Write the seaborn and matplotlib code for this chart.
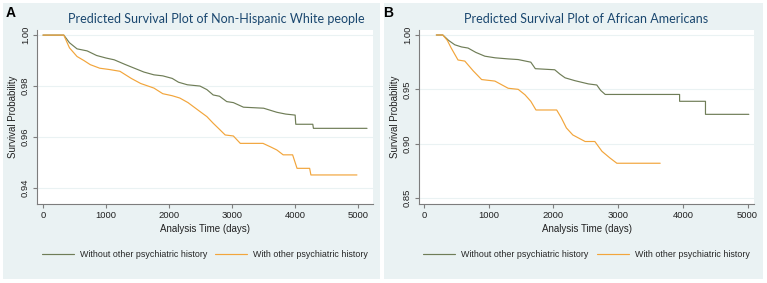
import numpy as np
import pandas as pd
import matplotlib
matplotlib.use("Agg")
import matplotlib.pyplot as plt
from matplotlib.patches import Rectangle
from matplotlib.lines import Line2D
import seaborn as sns

# ---------------- data ----------------
groups = ["Without other psychiatric history", "With other psychiatric history"]

a_without_t = [0, 330, 420, 540, 700, 850, 1000, 1130, 1300, 1450, 1600, 1760, 1900, 2050, 2150,
               2290, 2490, 2600, 2700, 2800, 2915, 3020, 3180, 3500, 3710, 3850, 4000, 4010, 4280,
               4290, 5140]
a_without_s = [1.0, 1.0, 0.997, 0.9946, 0.9938, 0.992, 0.991, 0.9903, 0.9885, 0.987, 0.9855, 0.9844,
               0.984, 0.983, 0.9815, 0.9805, 0.980, 0.9786, 0.9765, 0.976, 0.9739, 0.9735, 0.9717,
               0.9713, 0.9697, 0.969, 0.9686, 0.965, 0.965, 0.9634, 0.9634]

a_with_t = [0, 330, 420, 540, 650, 750, 900, 1050, 1220, 1400, 1550, 1760, 1900, 2050, 2170, 2300,
            2490, 2600, 2700, 2800, 2890, 3020, 3130, 3490, 3620, 3710, 3810, 3960, 4030, 4230,
            4250, 4980]
a_with_s = [1.0, 1.0, 0.995, 0.9916, 0.990, 0.9884, 0.987, 0.9865, 0.9858, 0.983, 0.981, 0.9792,
            0.977, 0.9762, 0.9753, 0.9735, 0.970, 0.968, 0.9654, 0.963, 0.9608, 0.9604, 0.9575,
            0.9575, 0.956, 0.9549, 0.953, 0.953, 0.9477, 0.9477, 0.9451, 0.9451]

b_without_t = [190, 290, 380, 475, 580, 680, 800, 940, 1100, 1300, 1455, 1650, 1720, 2020, 2100, 2180,
               2330, 2540, 2670, 2730, 2800, 3950, 3950, 4350, 4350, 5020]
b_without_s = [1.0, 1.0, 0.995, 0.991, 0.989, 0.988, 0.984, 0.9805, 0.979, 0.978, 0.9774, 0.975,
               0.969, 0.968, 0.964, 0.9606, 0.958, 0.955, 0.954, 0.949, 0.9453, 0.9453, 0.939,
               0.939, 0.927, 0.927]

b_with_t = [190, 290, 360, 420, 525, 630, 760, 890, 1095, 1300, 1455, 1560, 1650, 1730, 2050, 2120,
            2200, 2300, 2490, 2640, 2750, 2870, 2980, 3650]
b_with_s = [1.0, 1.0, 0.995, 0.988, 0.977, 0.976, 0.967, 0.959, 0.9576, 0.951, 0.950, 0.945, 0.939,
            0.931, 0.931, 0.924, 0.9145, 0.908, 0.902, 0.902, 0.893, 0.887, 0.882, 0.882]

a_yticks = [0.94, 0.96, 0.98, 1.00]
b_yticks = [0.85, 0.90, 0.95, 1.00]
xticks = [0, 1000, 2000, 3000, 4000, 5000]

titles = ["Predicted Survival Plot of Non-Hispanic White people",
          "Predicted Survival Plot of African Americans"]
panel_letters = ["A", "B"]

# ---------------- style ----------------
W, H = 767, 283
GREEN = "#6f7d57"
ORANGE = "#f2a53b"
BG = "#eaf2f3"
AXC = "#7d7d7d"
TITLEC = "#1a476f"

sns.set_theme(style="white")
plt.rcParams["font.family"] = ["Liberation Sans", "DejaVu Sans"]

fig = plt.figure(figsize=(W / 100, H / 100), dpi=100, facecolor="white")

def px_rect(x0, y0, x1, y1):
    return [x0 / W, 1 - y1 / H, (x1 - x0) / W, (y1 - y0) / H]

# panel backgrounds (drawn beneath the axes)
for (x0, x1) in [(3, 380), (384, 763)]:
    r = px_rect(x0, 3, x1, 279)
    fig.patches.append(Rectangle((r[0], r[1]), r[2], r[3], transform=fig.transFigure,
                                 facecolor=BG, edgecolor="none", zorder=-10))

def make_df(t1, s1, t2, s2):
    return pd.DataFrame({
        "t": list(t1) + list(t2),
        "S": list(s1) + list(s2),
        "group": [groups[0]] * len(t1) + [groups[1]] * len(t2),
    })

panels = [
    dict(df=make_df(a_without_t, a_without_s, a_with_t, a_with_s), rect=px_rect(37, 30, 373, 204),
         ylim=(0.9337, 1.002), xlim=(-95, 5235), yticks=a_yticks, title_x=0.533, letter_px=(11, 13)),
    dict(df=make_df(b_without_t, b_without_s, b_with_t, b_with_s), rect=px_rect(419, 30, 754, 204),
         ylim=(0.8445, 1.0046), xlim=(-78, 5100), yticks=b_yticks, title_x=0.5, letter_px=(388, 13)),
]

for i, p in enumerate(panels):
    ax = fig.add_axes(p["rect"], zorder=1)
    ax.set_facecolor("white")
    sns.lineplot(data=p["df"], x="t", y="S", hue="group", hue_order=groups,
                 palette=[GREEN, ORANGE], estimator=None, sort=False,
                 linewidth=0.85, legend=False, ax=ax)
    ax.set_xlim(*p["xlim"])
    ax.set_ylim(*p["ylim"])
    ax.set_xticks(xticks)
    ax.set_xticklabels([str(x) for x in xticks])
    ax.set_yticks(p["yticks"])
    ax.set_yticklabels([f"{y:.2f}" for y in p["yticks"]], rotation=90, va="center")
    for y in p["yticks"]:
        ax.axhline(y, color=BG, lw=0.8, zorder=0)
    for s in ["top", "right"]:
        ax.spines[s].set_visible(False)
    for s in ["left", "bottom"]:
        ax.spines[s].set_color(AXC)
        ax.spines[s].set_linewidth(0.8)
    ax.tick_params(axis="both", which="major", direction="out", length=3, width=0.8,
                   color=AXC, labelsize=6.8, labelcolor="#222222", pad=2,
                   left=True, bottom=True)
    ax.set_xlabel("Analysis Time (days)", fontsize=7, color="#222222", labelpad=3)
    ax.set_ylabel("Survival Probability", fontsize=7, color="#222222")
    ax.yaxis.set_label_coords(-0.058, 0.5)
    ax.set_title(titles[i], x=p["title_x"], fontsize=9.0, color=TITLEC,
                 family=["Lato", "DejaVu Sans"], pad=5)
    handles = [Line2D([], [], color=GREEN, lw=0.85), Line2D([], [], color=ORANGE, lw=0.85)]
    ax.legend(handles, groups, loc="center", bbox_to_anchor=(0.5, -0.29), ncol=2,
              frameon=False, fontsize=6.4, handlelength=3.6, handletextpad=0.7,
              columnspacing=0.9)
    lx, ly = p["letter_px"]
    fig.text(lx / W, 1 - ly / H, panel_letters[i], fontsize=10, fontweight="bold",
             ha="center", va="center", color="black", zorder=5)

fig.savefig("out.png", dpi=100, facecolor="white")
